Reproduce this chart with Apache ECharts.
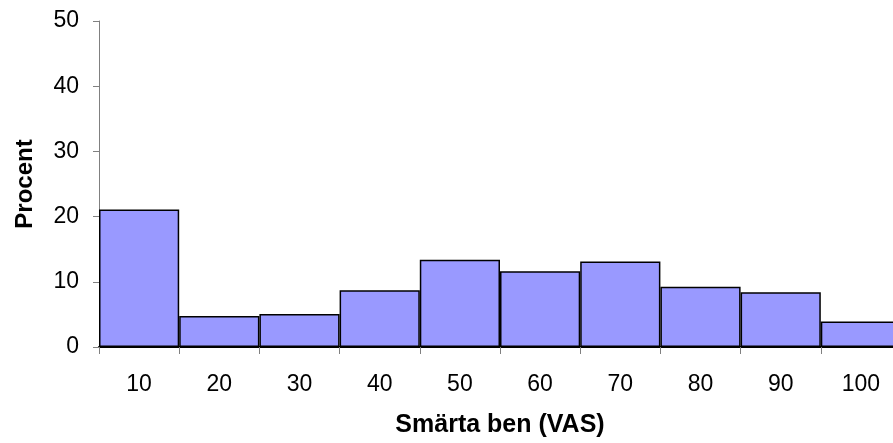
<!DOCTYPE html>
<html>
<head>
<meta charset="utf-8">
<script src="https://cdn.jsdelivr.net/npm/echarts@6/dist/echarts.min.js"></script>
<style>
html,body{margin:0;padding:0;background:#fff;overflow:hidden;}
#c{width:893px;height:443px;}
</style>
</head>
<body>
<div id="c"></div>
<script>
var categories = ['10','20','30','40','50','60','70','80','90','100'];
var values = [21.1, 4.75, 5.05, 8.7, 13.4, 11.6, 13.1, 9.25, 8.4, 3.9];
var yTicks = {min: 0, max: 50, interval: 10};
var xTitle = 'Smärta ben (VAS)';
var yTitle = 'Procent';

var chart = echarts.init(document.getElementById('c'), null, {renderer: 'canvas'});
var font = '"Liberation Sans", Arial, Helvetica, sans-serif';
chart.setOption({
  animation: false,
  backgroundColor: '#ffffff',
  grid: {left: 99, width: 802, top: 21, height: 326, containLabel: false, outerBoundsMode: 'none'},
  xAxis: {
    type: 'category',
    data: categories,
    name: xTitle,
    nameLocation: 'middle',
    nameGap: 66,
    nameTextStyle: {fontFamily: font, fontSize: 25, fontWeight: 'bold', color: '#000'},
    axisLine: {show: true, lineStyle: {color: '#000', width: 2}},
    axisTick: {show: true, length: 7, lineStyle: {color: '#808080', width: 1}},
    axisLabel: {fontFamily: font, fontSize: 23, color: '#000', margin: 26},
    splitLine: {show: false}
  },
  yAxis: {
    type: 'value',
    min: yTicks.min, max: yTicks.max, interval: yTicks.interval,
    name: yTitle,
    nameLocation: 'middle',
    nameGap: 62,
    nameTextStyle: {fontFamily: font, fontSize: 24, fontWeight: 'bold', color: '#000'},
    axisLine: {show: true, lineStyle: {color: '#808080', width: 1}},
    axisTick: {show: true, length: 6, lineStyle: {color: '#808080', width: 1}},
    axisLabel: {fontFamily: font, fontSize: 23, color: '#000', margin: 20},
    splitLine: {show: false}
  },
  series: [{
    type: 'bar',
    data: values,
    barCategoryGap: '0%',
    itemStyle: {color: '#9999FF', borderColor: '#000', borderWidth: 1.5}
  }]
});
</script>
</body>
</html>
